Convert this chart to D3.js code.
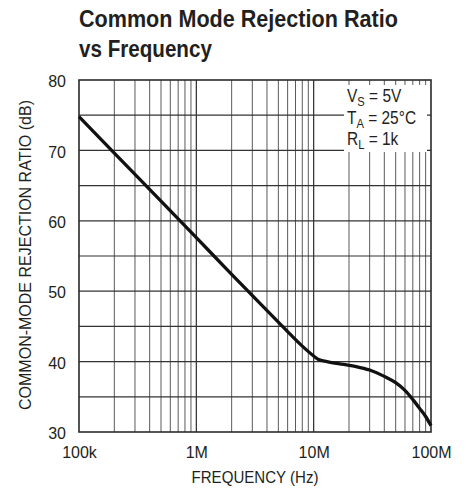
<!DOCTYPE html>
<html><head><meta charset="utf-8">
<script src="https://cdn.jsdelivr.net/npm/d3@7/dist/d3.min.js"></script>
<style>
body{margin:0;background:#fff;}
svg text{font-family:"Liberation Sans Narrow","Arial Narrow","Liberation Sans",sans-serif;fill:#231f20;}
</style></head>
<body><svg id="c" width="466" height="489"></svg>
<script>
const titleLines = ["Common Mode Rejection Ratio", "vs Frequency"];
const xTickValues = [1e5, 1e6, 1e7, 1e8];
const xTickLabels = ["100k", "1M", "10M", "100M"];
const yTickValues = [30, 40, 50, 60, 70, 80];
const freqHz = [1e5, 2e5, 5e5, 1e6, 2e6, 5e6, 6.3e6, 8e6, 1e7, 1.1e7, 1.3e7, 1.8e7, 2.3e7, 3e7, 4e7, 5e7, 6e7, 7e7, 8e7, 9e7, 1e8];
const cmrrDb = [74.8, 69.6, 62.8, 57.6, 52.4, 45.6, 43.9, 42.2, 40.8, 40.3, 40.0, 39.6, 39.3, 38.8, 37.9, 37.0, 35.9, 34.6, 33.35, 32.2, 30.9];
const legendLines = [["V","S"," = 5V"], ["T","A"," = 25°C"], ["R","L"," = 1k"]];

const svg = d3.select("#c");
const L = 79, R = 431, T = 80, B = 432;
const x = d3.scaleLog().domain([1e5, 1e8]).range([L, R]);
const y = d3.scaleLinear().domain([30, 80]).range([B, T]);

// squeeze a text horizontally to a target width (condensed-font look)
function placeText(parent, txt, ax, ay, size, targetW, opts = {}) {
  const g = parent.append("g");
  const t = g.append("text").attr("font-size", size)
    .attr("font-weight", opts.bold ? "bold" : null)
    .attr("text-anchor", opts.anchor || "start").text(txt);
  const w = t.node().getComputedTextLength();
  const s = targetW / w;
  g.attr("transform", `translate(${ax},${ay})${opts.rotate ? " rotate(" + opts.rotate + ")" : ""} scale(${s},1)`);
  return t;
}

// title
const titleW = [319, 133];
titleLines.forEach((d, i) => placeText(svg, d, L, 27 + i * 30, 24, titleW[i], { bold: true }));

// grid
const minor = [];
for (let dec = 1e5; dec < 1e8; dec *= 10) for (let k = 2; k <= 9; k++) minor.push(dec * k);
const grid = svg.append("g");
grid.selectAll("line.v").data(minor).join("line")
  .attr("x1", d => x(d)).attr("x2", d => x(d)).attr("y1", T).attr("y2", B)
  .attr("stroke", "#5a5a5a").attr("stroke-width", 1);
grid.selectAll("line.d").data([1e6, 1e7]).join("line")
  .attr("x1", d => x(d)).attr("x2", d => x(d)).attr("y1", T).attr("y2", B)
  .attr("stroke", "#2a2a2a").attr("stroke-width", 1.2);
const yGrid = d3.range(35, 80, 5);
grid.selectAll("line.h").data(yGrid).join("line")
  .attr("x1", L).attr("x2", R).attr("y1", d => y(d)).attr("y2", d => y(d))
  .attr("stroke", "#333").attr("stroke-width", 1.2);

// legend box (white)
svg.append("rect").attr("x", 344).attr("y", 85).attr("width", 83).attr("height", 67).attr("fill", "#fff");
legendLines.forEach((l, i) => {
  const g = svg.append("g");
  const t = g.append("text").attr("font-size", 18);
  t.append("tspan").text(l[0]);
  t.append("tspan").attr("font-size", 13).attr("dy", 4).text(l[1]);
  t.append("tspan").attr("dy", -4).text(l[2]);
  g.attr("transform", `translate(347,${102 + i * 21.5}) scale(0.86,1)`);
});

// frame
svg.append("rect").attr("x", L).attr("y", T).attr("width", R - L).attr("height", B - T)
  .attr("fill", "none").attr("stroke", "#2a2a2a").attr("stroke-width", 1.6);

// curve
const line = d3.line().x((d, i) => x(freqHz[i])).y(d => y(d)).curve(d3.curveMonotoneX);
svg.append("path").datum(cmrrDb).attr("d", line)
  .attr("fill", "none").attr("stroke", "#111").attr("stroke-width", 3.3);

// axes
const xAxis = d3.axisBottom(x).tickValues(xTickValues).tickFormat((d, i) => xTickLabels[i]).tickSize(0).tickPadding(15);
const gx = svg.append("g").attr("transform", `translate(0,${B})`).call(xAxis);
gx.select(".domain").remove();
gx.selectAll("text").attr("font-size", 16).attr("font-family", null).attr("fill", "#231f20");
const yAxis = d3.axisLeft(y).tickValues(yTickValues).tickSize(0).tickPadding(13);
const gy = svg.append("g").attr("transform", `translate(${L},1.5)`).call(yAxis);
gy.select(".domain").remove();
gy.selectAll("text").attr("font-size", 16).attr("font-family", null).attr("fill", "#231f20");

placeText(svg, "FREQUENCY (Hz)", 255, 483, 16, 127, { anchor: "middle" });
placeText(svg, "COMMON-MODE REJECTION RATIO (dB)", 31, 255, 16, 310, { anchor: "middle", rotate: -90 });
</script></body></html>
